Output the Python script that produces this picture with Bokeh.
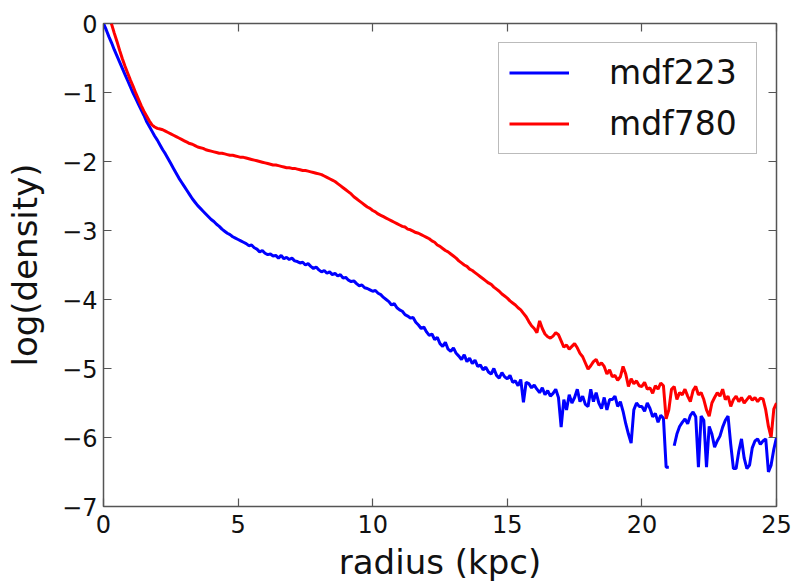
from bokeh.plotting import figure
from bokeh.models import Range1d, LinearAxis, FixedTicker, Legend, LegendItem
from bokeh.embed import file_html
from bokeh.resources import INLINE

nan = float("nan")

# radial bins (kpc)
radius = [round(0.1 * i, 1) for i in range(251)]

# log(density) profile of mdf223
mdf223 = [
    0.00, -0.09, -0.19, -0.28, -0.38, -0.47, -0.56, -0.65, -0.74, -0.83,
    -0.92, -1.01, -1.09, -1.17, -1.25, -1.33, -1.42, -1.49, -1.56, -1.63,
    -1.69, -1.76, -1.83, -1.89, -1.96, -2.03, -2.10, -2.17, -2.24, -2.30,
    -2.36, -2.42, -2.48, -2.54, -2.59, -2.64, -2.68, -2.72, -2.76, -2.80,
    -2.84, -2.87, -2.91, -2.94, -2.98, -3.01, -3.04, -3.06, -3.09, -3.11,
    -3.13, -3.15, -3.17, -3.19, -3.22, -3.21, -3.25, -3.27, -3.31, -3.29,
    -3.33, -3.35, -3.34, -3.37, -3.36, -3.40, -3.36, -3.41, -3.39, -3.42,
    -3.40, -3.44, -3.45, -3.47, -3.46, -3.50, -3.48, -3.52, -3.55, -3.53,
    -3.57, -3.60, -3.58, -3.62, -3.60, -3.64, -3.62, -3.66, -3.64, -3.69,
    -3.68, -3.72, -3.74, -3.73, -3.77, -3.80, -3.79, -3.83, -3.84, -3.86,
    -3.88, -3.87, -3.91, -3.93, -3.97, -4.00, -4.03, -4.08, -4.06, -4.12,
    -4.15, -4.17, -4.22, -4.24, -4.27, -4.26, -4.33, -4.37, -4.42, -4.40,
    -4.47, -4.52, -4.50, -4.58, -4.55, -4.64, -4.68, -4.62, -4.72, -4.75,
    -4.70, -4.78, -4.82, -4.87, -4.80, -4.90, -4.85, -4.93, -4.88, -4.97,
    -4.95, -5.02, -4.98, -5.05, -5.08, -5.00, -5.10, -5.14, -5.06, -5.12,
    -5.15, -5.10, -5.20, -5.18, -5.25, -5.16, -5.49, -5.20, -5.22, -5.28,
    -5.24, -5.30, -5.35, -5.28, -5.38, -5.32, -5.40, -5.36, -5.30, -5.42,
    -5.85, -5.45, -5.60, -5.38, -5.50, -5.42, -5.30, -5.48, -5.40, -5.52,
    -5.55, -5.30, -5.48, -5.35, -5.50, -5.58, -5.42, -5.60, -5.45, -5.45,
    -5.40, -5.55, -5.48, -5.62, -5.80, -5.95, -6.08, -5.60, -5.50, -5.55,
    -5.55, -5.62, -5.50, -5.58, -5.70, -5.65, -5.78, -5.68, -5.72, -6.43,
    -6.43, nan, -6.12, -5.95, -5.84, -5.78, -5.73, -5.80, -5.68, -5.63,
    -5.70, -6.43, -5.69, -5.75, -6.43, -5.84, -5.95, -6.14, -6.05, -5.98,
    -5.85, -5.75, -5.69, -6.10, -6.45, -6.45, -6.20, -6.02, -6.30, -6.45,
    -6.40, -6.15, -6.05, -6.02, -6.10, -6.05, -6.02, -6.50, -6.40, -6.17,
    -6.00,
]

# log(density) profile of mdf780
mdf780 = [
    nan, nan, 0.11, -0.01, -0.14, -0.26, -0.39, -0.51, -0.62, -0.72,
    -0.82, -0.91, -1.01, -1.10, -1.19, -1.27, -1.34, -1.41, -1.47, -1.50,
    -1.52, -1.53, -1.54, -1.56, -1.58, -1.60, -1.62, -1.64, -1.66, -1.68,
    -1.70, -1.72, -1.74, -1.75, -1.77, -1.79, -1.80, -1.81, -1.83, -1.84,
    -1.85, -1.86, -1.87, -1.88, -1.88, -1.89, -1.90, -1.91, -1.91, -1.92,
    -1.93, -1.94, -1.94, -1.95, -1.96, -1.97, -1.98, -1.99, -2.00, -2.01,
    -2.02, -2.03, -2.04, -2.05, -2.05, -2.06, -2.07, -2.08, -2.09, -2.09,
    -2.10, -2.10, -2.11, -2.12, -2.13, -2.13, -2.14, -2.15, -2.16, -2.17,
    -2.18, -2.19, -2.21, -2.23, -2.25, -2.27, -2.29, -2.32, -2.35, -2.38,
    -2.41, -2.44, -2.47, -2.51, -2.54, -2.57, -2.60, -2.63, -2.66, -2.68,
    -2.71, -2.73, -2.76, -2.78, -2.80, -2.82, -2.84, -2.86, -2.88, -2.90,
    -2.92, -2.94, -2.95, -2.98, -2.99, -3.01, -3.03, -3.04, -3.06, -3.08,
    -3.10, -3.12, -3.15, -3.17, -3.21, -3.23, -3.26, -3.29, -3.31, -3.34,
    -3.37, -3.40, -3.44, -3.47, -3.50, -3.52, -3.56, -3.58, -3.61, -3.64,
    -3.67, -3.70, -3.73, -3.76, -3.78, -3.82, -3.85, -3.88, -3.92, -3.95,
    -3.98, -4.02, -4.05, -4.08, -4.12, -4.15, -4.20, -4.25, -4.32, -4.38,
    -4.42, -4.48, -4.31, -4.42, -4.50, -4.54, -4.56, -4.53, -4.48, -4.51,
    -4.60, -4.69, -4.66, -4.72, -4.68, -4.64, -4.70, -4.78, -4.83, -4.92,
    -5.01, -4.96, -4.90, -4.87, -4.95, -4.92, -4.97, -5.08, -5.02, -5.12,
    -5.10, -5.17, -5.12, -4.97, -5.08, -5.26, -5.15, -5.22, -5.18, -5.25,
    -5.26, -5.20, -5.30, -5.28, -5.36, -5.25, -5.30, -5.21, -5.25, -5.73,
    -5.60, -5.30, -5.26, -5.45, -5.35, -5.38, -5.30, -5.40, -5.48, -5.32,
    -5.26, -5.38, -5.35, -5.45, -5.60, -5.69, -5.50, -5.42, -5.35, -5.40,
    -5.30, -5.45, -5.40, -5.55, -5.45, -5.40, -5.48, -5.42, -5.50, -5.45,
    -5.40, -5.46, -5.42, -5.48, -5.43, -5.44, -5.60, -5.84, -6.00, -5.59,
    -5.50,
]

x_ticks = [0, 5, 10, 15, 20, 25]
y_ticks = [0, -1, -2, -3, -4, -5, -6, -7]
y_tick_labels = {t: str(t).replace("-", "\u2212") for t in y_ticks}

FONT = "DejaVu Sans"
FRAME = "#555555"

p = figure(
    width=795, height=584,
    x_range=Range1d(0, 25), y_range=Range1d(-7, 0),
    output_backend="svg", toolbar_location=None,
    min_border_left=103, min_border_right=19,
    min_border_top=23, min_border_bottom=76,
)
p.xgrid.visible = False
p.ygrid.visible = False
p.outline_line_color = FRAME
p.outline_line_width = 1.5
p.background_fill_color = "white"
p.border_fill_color = "white"

r1 = p.line(radius, mdf223, line_color="#0000ff", line_width=3)
r2 = p.line(radius, mdf780, line_color="#ff0000", line_width=3)


def style_axis(ax, ticks, show_labels):
    ax.ticker = FixedTicker(ticks=ticks)
    ax.axis_line_color = None
    ax.major_tick_in = 8
    ax.major_tick_out = 0
    ax.major_tick_line_color = FRAME
    ax.major_tick_line_width = 1.2
    ax.minor_tick_line_color = None
    ax.major_label_text_font = FONT
    if show_labels:
        ax.major_label_text_font_size = "24px"
        ax.major_label_text_color = "#111111"
    else:
        ax.major_label_text_font_size = "0px"
        ax.major_label_text_color = None


xa = p.xaxis[0]
ya = p.yaxis[0]
style_axis(xa, x_ticks, True)
style_axis(ya, y_ticks, True)
ya.major_label_overrides = y_tick_labels
xa.major_label_standoff = 8
ya.major_label_standoff = 6

xa.axis_label = "radius (kpc)"
ya.axis_label = "log(density)"
for ax in (xa, ya):
    ax.axis_label_text_font = FONT
    ax.axis_label_text_font_size = "34px"
    ax.axis_label_text_font_style = "normal"
    ax.axis_label_text_color = "#111111"
xa.axis_label_standoff = 6
ya.axis_label_standoff = 14

top = LinearAxis()
right = LinearAxis()
style_axis(top, x_ticks, False)
style_axis(right, y_ticks, False)
p.add_layout(top, "above")
p.add_layout(right, "right")

legend = Legend(
    items=[LegendItem(label="mdf223", renderers=[r1]),
           LegendItem(label="mdf780", renderers=[r2])],
    location="top_right",
    margin=19,
    padding=10,
    spacing=12,
    glyph_width=60,
    glyph_height=33,
    label_height=33,
    label_width=137,
    label_standoff=40,
    label_text_font=FONT,
    label_text_font_size="33px",
    label_text_color="#111111",
    border_line_color="#777777",
    border_line_width=1.5,
    background_fill_color="white",
    background_fill_alpha=1.0,
)
p.add_layout(legend, "center")

open("out.html", "w").write(file_html(p, INLINE))
